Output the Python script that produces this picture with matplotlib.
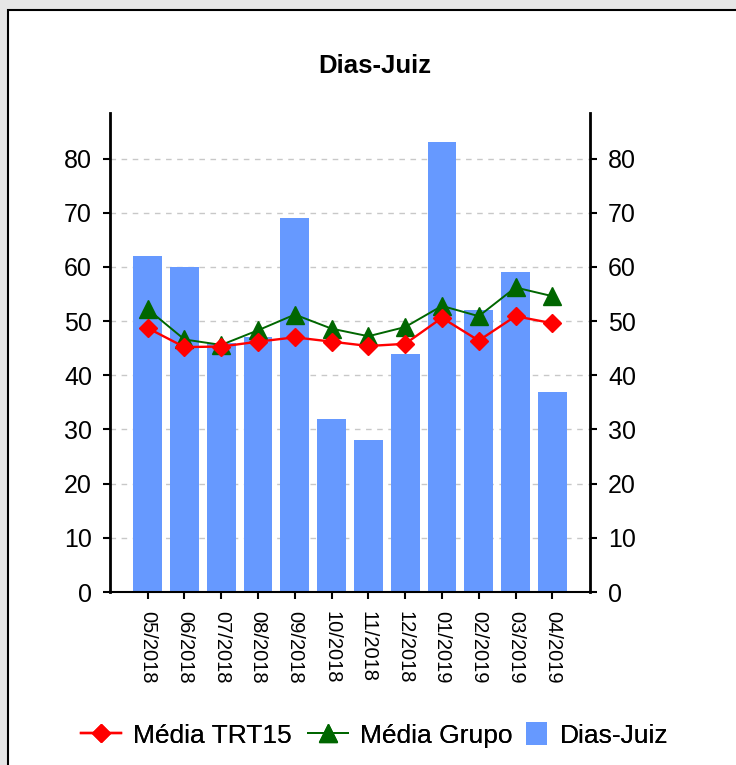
import matplotlib
matplotlib.use('Agg')
import matplotlib.pyplot as plt
from matplotlib.lines import Line2D
from matplotlib.patches import Rectangle
import numpy as np

plt.rcParams['font.family'] = ['Liberation Sans', 'DejaVu Sans']

# Data
meses = ['05/2018', '06/2018', '07/2018', '08/2018', '09/2018', '10/2018',
         '11/2018', '12/2018', '01/2019', '02/2019', '03/2019', '04/2019']
dias_juiz = [62, 60, 46, 47, 69, 32, 28, 44, 83, 52, 59, 37]
media_trt15 = [48.7, 45.2, 45.3, 46.2, 47.0, 46.2, 45.4, 45.8, 50.6, 46.4, 50.9, 49.6]
media_grupo = [52.2, 46.6, 45.6, 48.3, 51.2, 48.6, 47.2, 48.9, 52.8, 50.9, 56.2, 54.6]

bar_color = '#6699ff'
red = '#ff0000'
green = '#006600'

fig = plt.figure(figsize=(7.36, 7.65), dpi=100, facecolor='#e6e6e6')

# white panel with black border
panel = Rectangle((8 / 736, -0.1), 1.2, 1 - 10 / 765 + 0.1, transform=fig.transFigure,
                  facecolor='white', edgecolor='black', linewidth=1.5, zorder=-10)
fig.patches.append(panel)

ax = fig.add_axes([110 / 736, 1 - 592 / 765, 480 / 736, 479 / 765])
ax.set_facecolor('white')

x = np.arange(len(meses))
ax.bar(x, dias_juiz, width=0.78, color=bar_color, zorder=2)
ax.plot(x, media_grupo, color=green, linewidth=1.4, marker='^', markersize=13.5, zorder=3)
ax.plot(x, media_trt15, color=red, linewidth=1.7, marker='D', markersize=9, zorder=4)

ax.set_xticks(x)
ax.set_xticklabels(meses, rotation=270, fontsize=14.5)
ax.set_xlim(-1.025, 12.025)
ax.set_ylim(0, 88.4)
ax.set_yticks(range(0, 81, 10))

ax.set_axisbelow(True)
ax.yaxis.grid(True, color='#c8c8c8', linestyle=(0, (4, 4)), linewidth=1)

ax.spines['top'].set_visible(False)
for s in ['left', 'right']:
    ax.spines[s].set_linewidth(2)
ax.spines['bottom'].set_linewidth(1.5)

ax.tick_params(axis='y', which='both', left=True, right=True, labelleft=True, labelright=True,
               direction='out', length=5, width=1.5, labelsize=18, pad=8)
ax.tick_params(axis='x', direction='out', length=5, width=1.5, pad=9)

# title
fig.text(375 / 736, 1 - 66 / 765, 'Dias-Juiz', ha='center', va='center',
         fontsize=18.5, fontweight='bold')

# legend, one entry at a time so the spacing follows the original
leg_y = 1 - 735 / 765
entries = [
    (Line2D([], [], color=red, linewidth=1.7, marker='D', markersize=9), 'Média TRT15', 81, 1.5),
    (Line2D([], [], color=green, linewidth=1.4, marker='^', markersize=13.5), 'Média Grupo', 308, 1.5),
    (Rectangle((0, 0), 1, 1, facecolor=bar_color, edgecolor='none'), 'Dias-Juiz', 526, 0.8),
]
for handle, label, xpx, hl in entries:
    leg = fig.legend([handle], [label], loc='center left', bbox_to_anchor=(xpx / 736, leg_y),
                     frameon=False, fontsize=19, handlelength=hl, handleheight=0.95,
                     handletextpad=0.47, borderpad=0, borderaxespad=0)
    fig.add_artist(leg)

fig.savefig('out.png', dpi=100, facecolor=fig.get_facecolor())
